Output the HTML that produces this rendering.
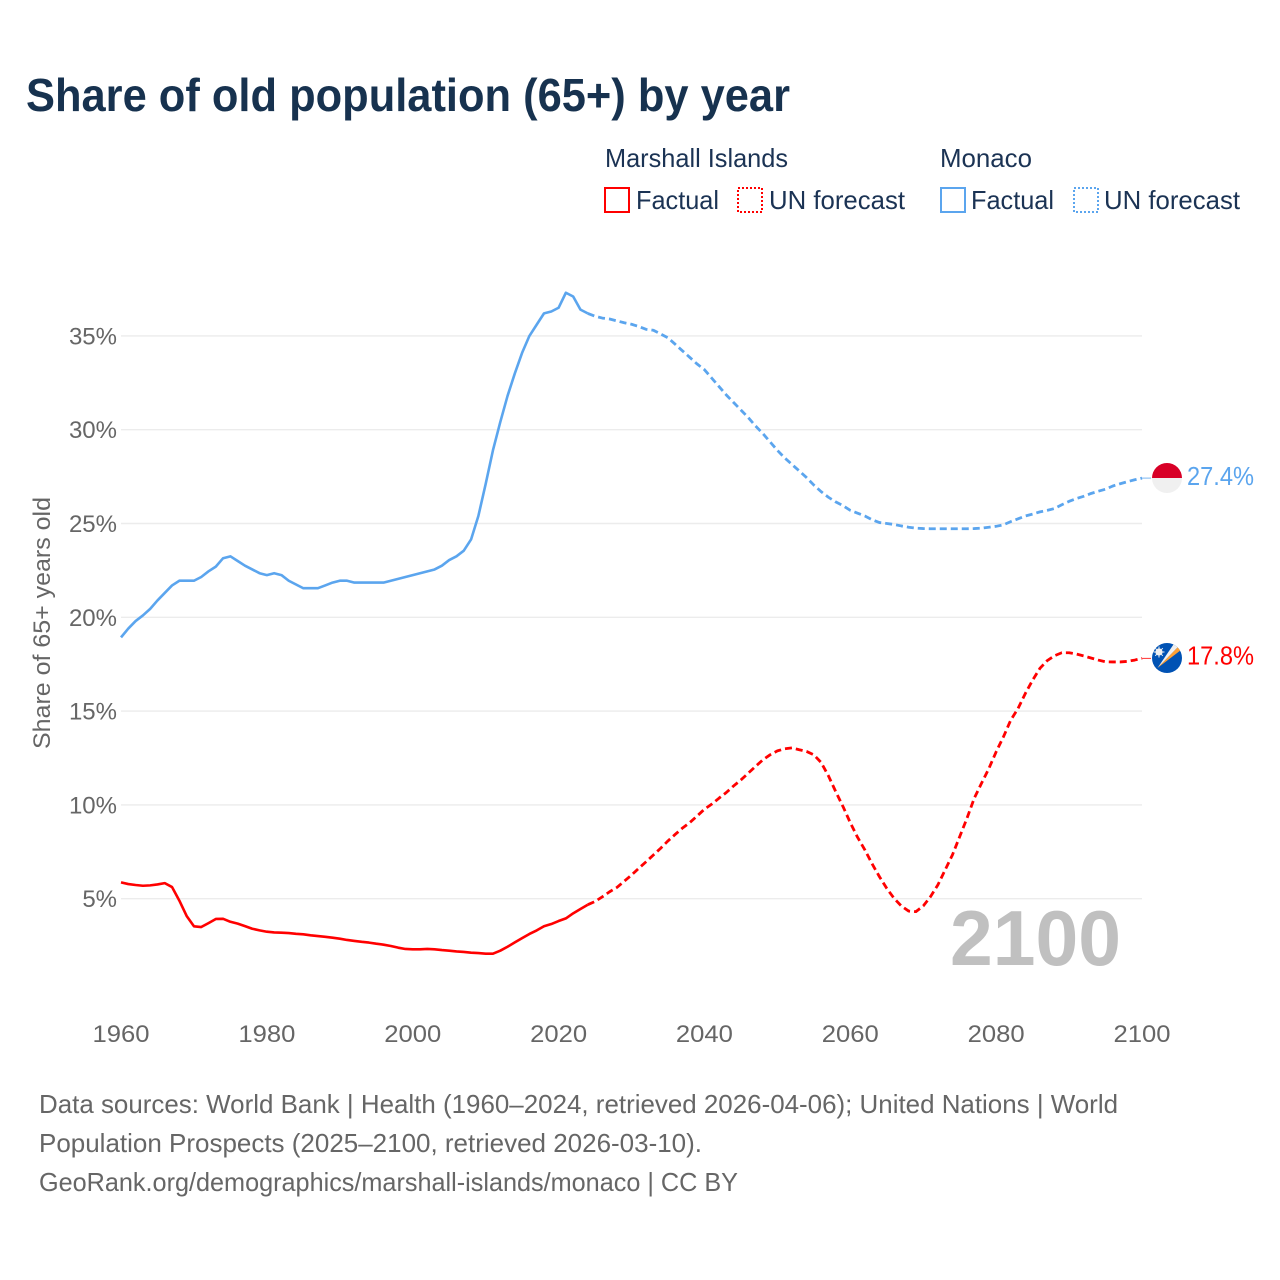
<!DOCTYPE html>
<html lang="en">
<head>
<meta charset="utf-8">
<title>Share of old population (65+) by year</title>
<style>
html,body{margin:0;padding:0;background:#fff;}
svg{display:block;font-family:"Liberation Sans",sans-serif;}
</style>
</head>
<body>
<svg id="chart" xmlns="http://www.w3.org/2000/svg" width="1280" height="1280" viewBox="0 0 1280 1280">
  <rect width="1280" height="1280" fill="#ffffff"/>
  <text x="26" y="111" font-size="46" font-weight="700" fill="#17324f" textLength="764" lengthAdjust="spacingAndGlyphs">Share of old population (65+) by year</text>

  <g font-size="26" fill="#1b3354">
    <text x="605" y="167" textLength="183" lengthAdjust="spacingAndGlyphs">Marshall Islands</text>
    <text x="940" y="167" textLength="92" lengthAdjust="spacingAndGlyphs">Monaco</text>
    <rect x="605" y="188" width="24" height="24" fill="none" stroke="#ff0000" stroke-width="2"/>
    <text x="636" y="209" textLength="83" lengthAdjust="spacingAndGlyphs">Factual</text>
    <rect x="738" y="188" width="24" height="24" fill="none" stroke="#ff0000" stroke-width="2" stroke-dasharray="2 2"/>
    <text x="769" y="209" textLength="136" lengthAdjust="spacingAndGlyphs">UN forecast</text>
    <rect x="941" y="188" width="24" height="24" fill="none" stroke="#5ba5ee" stroke-width="2"/>
    <text x="971" y="209" textLength="83" lengthAdjust="spacingAndGlyphs">Factual</text>
    <rect x="1074" y="188" width="24" height="24" fill="none" stroke="#5ba5ee" stroke-width="2" stroke-dasharray="2 2"/>
    <text x="1104" y="209" textLength="136" lengthAdjust="spacingAndGlyphs">UN forecast</text>
  </g>

  <g id="grid"></g>
  <g id="yticks" font-size="24" fill="#666666" text-anchor="end"></g>
  <g id="xticks" font-size="24" fill="#666666"></g>

  <text transform="translate(50,749) rotate(-90)" font-size="24" fill="#666666" textLength="252" lengthAdjust="spacingAndGlyphs">Share of 65+ years old</text>

  <text x="950" y="965" font-size="78" font-weight="700" fill="#c0c0c0" textLength="171" lengthAdjust="spacingAndGlyphs">2100</text>

  <g id="series"></g>

  <defs>
    <clipPath id="clip-mc"><circle cx="1167" cy="478" r="15"/></clipPath>
    <clipPath id="clip-mh"><circle cx="1167" cy="658" r="15"/></clipPath>
  </defs>
  <g id="flag-monaco" clip-path="url(#clip-mc)">
    <rect x="1150" y="461" width="34" height="17" fill="#d80027"/>
    <rect x="1150" y="478" width="34" height="17" fill="#f0f0f0"/>
  </g>
  <g id="flag-marshall" clip-path="url(#clip-mh)">
    <rect x="1150" y="641" width="34" height="34" fill="#0052b4"/>
    <polygon points="1157.5,668 1174.5,643 1178.5,646.5" fill="#f0f0f0"/>
    <polygon points="1157.5,668 1178.5,646.5 1181,650" fill="#ffa033"/>
    <circle cx="1159" cy="652" r="3.6" fill="#f0f0f0"/>
    <path d="M1159 646.5v11M1153.5 652h11M1155.2 648.2l7.6 7.6M1162.8 648.2l-7.6 7.6" stroke="#f0f0f0" stroke-width="1"/>
  </g>

  <text id="label-monaco" x="1187" y="485" font-size="26" fill="#5ba5ee" textLength="67" lengthAdjust="spacingAndGlyphs"></text>
  <text id="label-marshall" x="1187" y="664.5" font-size="26" fill="#ff0000" textLength="67" lengthAdjust="spacingAndGlyphs"></text>

  <g font-size="26" fill="#666666">
    <text x="39" y="1113" textLength="1079" lengthAdjust="spacingAndGlyphs">Data sources: World Bank | Health (1960–2024, retrieved 2026-04-06); United Nations | World</text>
    <text x="39" y="1152" textLength="663" lengthAdjust="spacingAndGlyphs">Population Prospects (2025–2100, retrieved 2026-03-10).</text>
    <text x="39" y="1191" textLength="699" lengthAdjust="spacingAndGlyphs">GeoRank.org/demographics/marshall-islands/monaco | CC BY</text>
  </g>
</svg>

<script>
const years = [1960,1961,1962,1963,1964,1965,1966,1967,1968,1969,
1970,1971,1972,1973,1974,1975,1976,1977,1978,1979,
1980,1981,1982,1983,1984,1985,1986,1987,1988,1989,
1990,1991,1992,1993,1994,1995,1996,1997,1998,1999,
2000,2001,2002,2003,2004,2005,2006,2007,2008,2009,
2010,2011,2012,2013,2014,2015,2016,2017,2018,2019,
2020,2021,2022,2023,2024,2025,2026,2027,2028,2029,
2030,2031,2032,2033,2034,2035,2036,2037,2038,2039,
2040,2041,2042,2043,2044,2045,2046,2047,2048,2049,
2050,2051,2052,2053,2054,2055,2056,2057,2058,2059,
2060,2061,2062,2063,2064,2065,2066,2067,2068,2069,
2070,2071,2072,2073,2074,2075,2076,2077,2078,2079,
2080,2081,2082,2083,2084,2085,2086,2087,2088,2089,
2090,2091,2092,2093,2094,2095,2096,2097,2098,2099,2100];

const marshallValues = [5.87,5.78,5.73,5.69,5.71,5.76,5.83,5.62,4.9,4.08,
3.53,3.49,3.7,3.92,3.93,3.77,3.67,3.54,3.4,3.31,
3.24,3.2,3.19,3.17,3.13,3.1,3.05,3.01,2.97,2.92,
2.87,2.8,2.75,2.7,2.66,2.6,2.55,2.48,2.39,2.32,
2.3,2.3,2.32,2.3,2.26,2.23,2.19,2.16,2.12,2.1,
2.07,2.07,2.23,2.44,2.67,2.9,3.12,3.31,3.53,3.65,
3.81,3.95,4.22,4.45,4.68,4.85,5.1,5.37,5.6,5.93,
6.26,6.62,6.97,7.33,7.69,8.08,8.43,8.77,9.06,9.41,
9.77,10.04,10.36,10.66,11.01,11.33,11.69,12.05,12.4,12.67,
12.88,12.99,13.04,12.94,12.85,12.67,12.26,11.55,10.71,9.91,
9.05,8.27,7.6,6.85,6.17,5.55,5.02,4.61,4.34,4.31,
4.61,5.11,5.73,6.53,7.33,8.31,9.29,10.36,11.16,11.94,
12.83,13.63,14.52,15.14,15.94,16.65,17.28,17.69,17.95,18.11,
18.11,18.04,17.94,17.83,17.72,17.63,17.62,17.62,17.65,17.72,17.81];

const monacoValues = [18.93,19.4,19.8,20.1,20.45,20.9,21.3,21.7,21.95,21.95,
21.95,22.15,22.45,22.7,23.15,23.25,23.0,22.75,22.55,22.35,
22.25,22.35,22.25,21.95,21.75,21.55,21.55,21.55,21.7,21.85,
21.95,21.95,21.85,21.85,21.85,21.85,21.85,21.95,22.05,22.15,
22.25,22.35,22.45,22.55,22.75,23.05,23.25,23.55,24.15,25.4,
27.1,28.9,30.4,31.8,33.0,34.1,35.0,35.6,36.2,36.3,
36.5,37.3,37.1,36.4,36.2,36.05,35.95,35.9,35.8,35.7,
35.62,35.5,35.35,35.3,35.1,34.9,34.55,34.2,33.85,33.5,
33.2,32.75,32.3,31.85,31.45,31.05,30.65,30.2,29.8,29.35,
28.9,28.5,28.15,27.8,27.45,27.05,26.7,26.4,26.15,25.95,
25.7,25.55,25.4,25.2,25.05,25.0,24.95,24.87,24.8,24.75,
24.73,24.72,24.72,24.72,24.72,24.72,24.72,24.73,24.75,24.8,
24.85,24.93,25.1,25.25,25.4,25.5,25.62,25.7,25.8,26.0,
26.18,26.33,26.45,26.6,26.72,26.83,27.0,27.12,27.23,27.33,27.42];

const lastFactualYear = 2024;
const yTickValues = [5,10,15,20,25,30,35];
const yTickLabels = ['5%','10%','15%','20%','25%','30%','35%'];
const xTickValues = [1960,1980,2000,2020,2040,2060,2080,2100];
const xTickLabels = ['1960','1980','2000','2020','2040','2060','2080','2100'];
const endLabelMarshall = '17.8%';
const endLabelMonaco = '27.4%';

const NS = 'http://www.w3.org/2000/svg';
const xScale = function (year) { return 121 + (year - 1960) * 7.293; };
const yScale = function (value) { return 992.5 - value * 18.76; };

const gridGroup = document.getElementById('grid');
const yTickGroup = document.getElementById('yticks');
const xTickGroup = document.getElementById('xticks');
const seriesGroup = document.getElementById('series');

yTickValues.forEach(function (value, i) {
  const line = document.createElementNS(NS, 'line');
  
  
  line.setAttribute('x1', 121);
  line.setAttribute('x2', 1142);
  line.setAttribute('y1', yScale(value));
  line.setAttribute('y2', yScale(value));
  line.setAttribute('stroke', '#ececec');
  line.setAttribute('stroke-width', '1.4');
  gridGroup.appendChild(line);

  const label = document.createElementNS(NS, 'text');
  
  
  label.setAttribute('x', 117);
  label.setAttribute('y', yScale(value) + 8.5);
  label.textContent = yTickLabels[i];
  yTickGroup.appendChild(label);
});

xTickValues.forEach(function (year, i) {
  const label = document.createElementNS(NS, 'text');
  
  
  label.setAttribute('x', xScale(year) - 28.5);
  label.setAttribute('y', 1042);
  label.setAttribute('textLength', '57');
  label.setAttribute('lengthAdjust', 'spacingAndGlyphs');
  label.textContent = xTickLabels[i];
  xTickGroup.appendChild(label);
});

function pointsFor(values, keep) {
  const pts = [];
  years.forEach(function (year, i) {
    if (keep(year)) {
      pts.push(xScale(year).toFixed(2) + ',' + yScale(values[i]).toFixed(2));
    }
  });
  return pts.join(' ');
}

function drawSeries(values, color, factualName, forecastName, connectorName) {
  const factual = document.createElementNS(NS, 'polyline');
  
  
  factual.setAttribute('points', pointsFor(values, function (y) { return y <= lastFactualYear; }));
  factual.setAttribute('fill', 'none');
  factual.setAttribute('stroke', color);
  factual.setAttribute('stroke-width', '2.6');
  factual.setAttribute('stroke-linejoin', 'round');
  seriesGroup.appendChild(factual);

  const forecast = document.createElementNS(NS, 'polyline');
  
  
  forecast.setAttribute('points', pointsFor(values, function (y) { return y >= lastFactualYear; }));
  forecast.setAttribute('fill', 'none');
  forecast.setAttribute('stroke', color);
  forecast.setAttribute('stroke-width', '2.8');
  forecast.setAttribute('stroke-dasharray', '7 4');
  forecast.setAttribute('stroke-linejoin', 'round');
  seriesGroup.appendChild(forecast);

  const connector = document.createElementNS(NS, 'line');
  
  
  connector.setAttribute('x1', xScale(2100));
  connector.setAttribute('x2', xScale(2100) + 9);
  connector.setAttribute('y1', yScale(values[values.length - 1]));
  connector.setAttribute('y2', yScale(values[values.length - 1]));
  connector.setAttribute('stroke', color);
  connector.setAttribute('stroke-width', '1');
  connector.setAttribute('opacity', '0.8');
  seriesGroup.appendChild(connector);
}

drawSeries(marshallValues, '#ff0000', 'marshall-islands-factual-line', 'marshall-islands-forecast-line', 'marshall-islands-connector');
drawSeries(monacoValues, '#5ba5ee', 'monaco-factual-line', 'monaco-forecast-line', 'monaco-connector');

document.getElementById('label-monaco').textContent = endLabelMonaco;
document.getElementById('label-marshall').textContent = endLabelMarshall;
</script>
</body>
</html>
